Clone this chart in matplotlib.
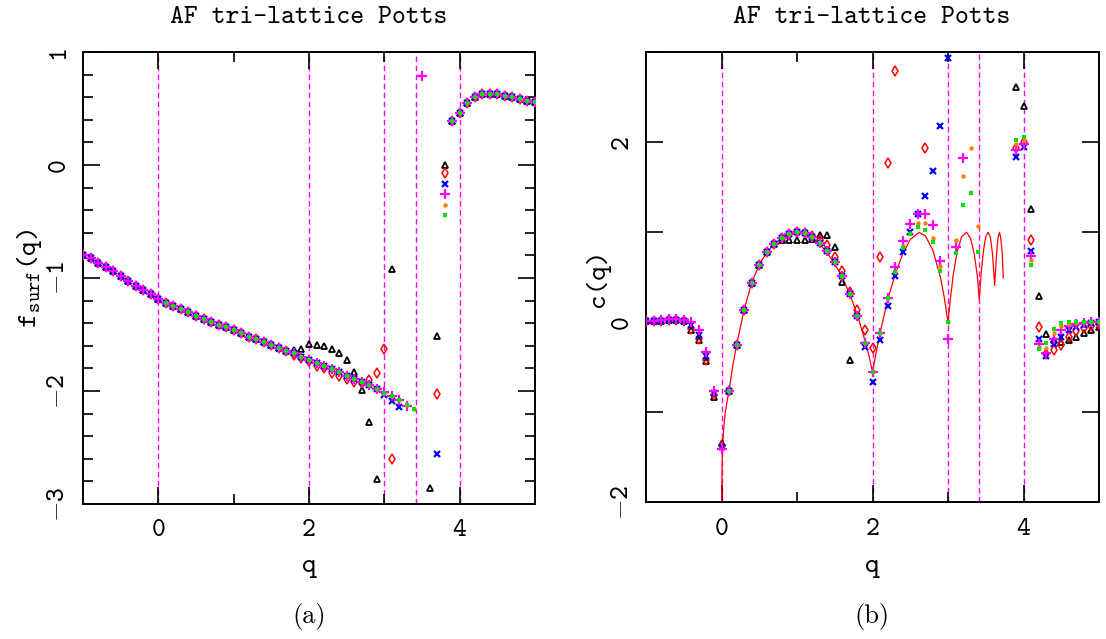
import numpy as np
import matplotlib
matplotlib.use("Agg")
import matplotlib.pyplot as plt

plt.rcParams['font.family'] = 'cmtt10'
plt.rcParams['mathtext.fontset'] = 'cm'
plt.rcParams['axes.unicode_minus'] = False

# q grid of the finite-size data (step 0.1)
q = np.round(np.linspace(-1.0, 5.0, 61), 1)
nan = np.nan

# vertical markers: q = 0, 2, 3, 2+sqrt(2), 4
q_special = [0.0, 2.0, 3.0, 3.414, 4.0]

# ---- panel (a): surface free energy, common curve ----
f_common = [
    -0.796, -0.826, -0.864, -0.900, -0.938, -0.980, -1.024, -1.068, -1.106, -1.145,
    -1.186, -1.218, -1.248, -1.277, -1.304, -1.336, -1.363, -1.392, -1.413, -1.437,
    -1.460, -1.490, -1.519, -1.543, -1.566, -1.593, -1.620, -1.646, -1.667, -1.696,
    -1.724, -1.752, -1.779, -1.808, -1.835, -1.863, -1.892, -1.917, -1.945, -1.980,
    -2.018, -2.044, -2.080, -2.122, -2.160, nan, nan, nan, nan, 0.392,
    0.463, 0.546, 0.600, 0.626, 0.630, 0.625, 0.614, 0.599, 0.585, 0.570,
    0.560,
]
f_black = {1.8: -1.634, 1.9: -1.625, 2.0: -1.584, 2.1: -1.590, 2.2: -1.604,
           2.3: -1.627, 2.4: -1.661, 2.5: -1.726, 2.6: -1.829, 2.7: -1.991,
           2.8: -2.27, 2.9: -2.78, 3.0: nan, 3.1: -0.923, 3.2: nan, 3.3: nan,
           3.4: nan, 3.6: -2.86, 3.7: -1.51, 3.8: 0.0}
f_red = {1.8: -1.680, 1.9: -1.710, 2.0: -1.735, 2.1: -1.783, 2.2: -1.800,
         2.3: -1.838, 2.4: -1.867, 2.5: -1.897, 2.6: -1.920, 2.7: -1.930,
         2.8: -1.905, 2.9: -1.843, 3.0: -1.628, 3.1: -2.60, 3.2: nan, 3.3: nan,
         3.4: nan, 3.7: -2.03, 3.8: -0.07}
f_blue = {3.0: -2.035, 3.1: -2.088, 3.2: -2.140, 3.3: nan, 3.4: nan,
          3.7: -2.56, 3.8: -0.165}
f_magenta = {3.0: -2.006, 3.3: -2.130, 3.4: nan, 3.5: 0.79, 3.8: -0.26}
f_orange = {-1.0: nan, -0.9: nan, -0.8: nan, -0.7: nan, -0.6: nan, -0.5: nan,
            -0.4: nan, -0.3: nan, -0.2: nan, -0.1: nan, 0.0: nan, 3.8: -0.35}
f_green = dict(f_orange)
f_green[3.8] = -0.44

# ---- panel (b): specific heat ----
c_common = [
    0.01, 0.01, 0.02, 0.03, 0.03, 0.02, -0.03, -0.13, -0.37, -0.78,
    -1.37, -0.76, -0.25, 0.14, 0.44, 0.64, 0.78, 0.87, 0.94, 0.98,
    1.00, 0.99, 0.95, 0.88, 0.79, 0.67, 0.51, 0.32, 0.07, -0.23,
    -0.55, -0.12, 0.27, 0.56, 0.83, 0.98, 1.06, 1.03, 0.89, 0.57,
    0.00, 0.77, 1.30, 1.44, 0.78, nan, nan, nan, nan, 2.03,
    2.06, 0.64, -0.30, -0.23, -0.07, -0.01, 0.00, 0.00, 0.00, 0.00,
    0.00,
]
c_black = {-0.4: -0.09, -0.3: -0.20, -0.2: -0.43, -0.1: -0.83, 0.0: -1.34,
           0.8: 0.91, 0.9: 0.91, 1.0: 0.91, 1.1: 0.91, 1.2: 0.93, 1.3: 0.97,
           1.4: 0.97, 1.5: 0.84, 1.6: 0.45, 1.7: -0.42, 1.8: nan, 1.9: nan,
           2.0: nan, 2.1: nan, 2.2: nan, 2.3: nan, 2.4: nan, 2.5: nan, 2.6: nan,
           2.7: nan, 2.8: nan, 2.9: nan, 3.0: nan, 3.1: nan, 3.2: nan, 3.3: nan,
           3.4: nan, 3.9: 2.61, 4.0: 2.40, 4.1: 1.26, 4.2: 0.29, 4.3: -0.13,
           4.4: -0.20, 4.5: -0.22, 4.6: -0.20, 4.7: -0.16, 4.8: -0.12,
           4.9: -0.08, 5.0: -0.05}
c_red = {-0.4: -0.07, -0.3: -0.18, -0.2: -0.42, -0.1: -0.81, 0.0: -1.37,
         1.2: 0.96, 1.3: 0.91, 1.4: 0.86, 1.5: 0.73, 1.6: 0.57, 1.7: 0.34,
         1.8: 0.14, 1.9: -0.08, 2.0: -0.28, 2.1: 0.73, 2.2: 1.77, 2.3: 2.79,
         2.4: nan, 2.5: nan, 2.6: nan, 2.7: 1.94, 2.8: nan, 2.9: nan, 3.0: nan,
         3.1: nan, 3.2: nan, 3.3: nan, 3.4: nan, 3.9: 1.94, 4.0: 2.00,
         4.1: 0.91, 4.2: -0.05, 4.3: -0.35, 4.4: -0.31, 4.5: -0.25,
         4.6: -0.16, 4.7: -0.10, 4.8: -0.06, 4.9: -0.04, 5.0: -0.02}
c_blue = {-0.4: -0.03, -0.3: -0.14, -0.2: -0.37, -0.1: -0.78, 0.0: -1.38,
          1.9: -0.27, 2.0: -0.66, 2.1: -0.20, 2.2: 0.18, 2.3: 0.51, 2.4: 0.78,
          2.5: 1.00, 2.6: 1.20, 2.7: 1.40, 2.8: 1.68, 2.9: 2.18, 3.0: 2.94,
          3.1: nan, 3.2: nan, 3.3: nan, 3.4: nan, 3.9: 1.84, 4.0: 1.95,
          4.1: 0.79, 4.2: -0.19, 4.3: -0.37, 4.4: -0.24, 4.5: -0.16,
          4.6: -0.08, 4.7: -0.05, 4.8: -0.03, 4.9: -0.01}
c_magenta = {-1.0: 0.02, -0.9: 0.02, -0.8: 0.03, -0.7: 0.04, -0.6: 0.04,
             -0.5: 0.03, -0.4: 0.00, -0.3: -0.09, -0.2: -0.33, -0.1: -0.76,
             0.0: -1.41, 2.3: 0.62, 2.4: 0.90, 2.5: 1.09, 2.6: 1.20, 2.7: 1.20,
             2.8: 1.08, 2.9: 0.68, 3.0: -0.18, 3.1: 0.84, 3.2: 1.83, 3.3: nan,
             3.4: nan, 3.9: 1.91, 4.0: 1.98, 4.1: 0.74, 4.2: -0.24, 4.3: -0.34,
             4.4: -0.19, 4.5: -0.08, 4.6: -0.04, 4.7: -0.02, 4.8: -0.01}
c_orange = {-1.0: nan, -0.9: nan, -0.8: nan, -0.7: nan, -0.6: nan, -0.5: nan,
            -0.4: nan, -0.3: nan, -0.2: nan, -0.1: nan, 0.0: nan,
            2.4: 0.85, 2.5: 0.99, 2.6: 1.10, 2.7: 1.10, 2.8: 0.94, 2.9: 0.63,
            3.1: 0.91, 3.2: 1.63, 3.3: 1.94, 3.4: 1.07, 3.9: 1.98, 4.0: 2.03,
            4.1: 0.69, 4.2: -0.27, 4.3: -0.28, 4.4: -0.12, 4.5: -0.04,
            4.6: -0.02, 4.7: -0.01}
c_green = {-1.0: nan, -0.9: nan, -0.8: nan, -0.7: nan, -0.6: nan, -0.5: nan,
           -0.4: nan, -0.3: nan, -0.2: nan, -0.1: nan, 0.0: nan}

# exact curve (red line) in panel (b)
q_exact = [0.0, 0.003, 0.01, 0.02, 0.03, 0.05, 0.075, 0.1, 0.15, 0.2, 0.3, 0.4,
           0.5, 0.6, 0.7, 0.8, 0.9, 1.0, 1.1, 1.2, 1.3, 1.4, 1.5, 1.6, 1.7, 1.8,
           1.9, 1.95, 2.0, 2.05, 2.1, 2.2, 2.3, 2.4, 2.5, 2.618, 2.7, 2.8, 2.9,
           2.95, 3.0, 3.03, 3.07, 3.12, 3.18, 3.247, 3.3, 3.35, 3.39, 3.414,
           3.44, 3.47, 3.5, 3.532, 3.56, 3.59, 3.618, 3.64, 3.66, 3.682, 3.70,
           3.72, 3.732]
c_exact = [-2.6, -1.9, -1.5, -1.3, -1.17, -1.0, -0.87, -0.76, -0.48, -0.25, 0.14,
           0.44, 0.64, 0.78, 0.87, 0.94, 0.985, 1.0, 0.985, 0.94, 0.87, 0.77,
           0.65, 0.50, 0.31, 0.08, -0.20, -0.36, -0.55, -0.33, -0.12, 0.25,
           0.53, 0.76, 0.92, 1.0, 0.96, 0.80, 0.50, 0.28, 0.0, 0.25, 0.53,
           0.78, 0.95, 1.0, 0.93, 0.75, 0.50, 0.25, 0.55, 0.80, 0.95, 1.0,
           0.95, 0.76, 0.41, 0.72, 0.93, 1.0, 0.93, 0.75, 0.49]

# axis ticks and their labels
x_ticks = [0, 2, 4]
x_labels = ['0', '2', '4']
f_ticks = [-3, -2, -1, 0, 1]
f_labels = [r'$-$3', r'$-$2', r'$-$1', '0', '1']
c_ticks = [-2, 0, 2]
c_labels = [r'$-$2', '0', '2']


def series(base, changes):
    arr = np.array(base, dtype=float)
    for qq, v in changes.items():
        arr[int(round((qq - q[0]) * 10))] = v
    return arr


styles = [
    dict(marker='^', mfc='none', mec='black', ms=5, mew=1.3),
    dict(marker='d', mfc='none', mec='red', ms=5.5, mew=1.1),
    dict(marker='x', color='blue', ms=4.5, mew=1.6),
    dict(marker='+', color='#ff00ff', ms=7, mew=1.6),
    dict(marker='o', color='#ff8000', ms=3.2, mew=0),
    dict(marker='s', color='#00e000', ms=3.2, mew=0),
]

f_sets = [series(f_common, d) for d in
          (f_black, f_red, f_blue, f_magenta, f_orange, f_green)]
c_sets = [series(c_common, d) for d in
          (c_black, c_red, c_blue, c_magenta, c_orange, c_green)]

fig = plt.figure(figsize=(11.06, 6.39), dpi=100)
W, H = 1106.0, 639.0
ax1 = fig.add_axes([83 / W, 1 - 504 / H, 452 / W, 452 / H])
ax2 = fig.add_axes([646 / W, 1 - 502.3 / H, 453 / W, 450 / H])

for ax in (ax1, ax2):
    for xv in q_special:
        ax.axvline(xv, color='#ff00ff', lw=1.0, dashes=(4, 2.5), zorder=1)

for vals, st in zip(f_sets, styles):
    ax1.plot(q, vals, ls='none', zorder=3, **st)

ax2.plot(q_exact, c_exact, color='red', lw=0.9, zorder=2)
for vals, st in zip(c_sets, styles):
    ax2.plot(q, vals, ls='none', zorder=3, **st)

ax1.set_xlim(-1, 5)
ax1.set_ylim(-3, 1)
ax1.set_yticks(f_ticks, f_labels)
ax1.set_yticks(np.arange(-3, 1.01, 0.2), minor=True)

ax2.set_xlim(-1, 5)
ax2.set_ylim(-2, 3)
ax2.set_yticks(c_ticks, c_labels)
ax2.set_yticks([-1, 1, 3], minor=True)

for ax in (ax1, ax2):
    ax.set_xticks(x_ticks, x_labels)
    ax.set_xticks([1, 3], minor=True)
    for s in ax.spines.values():
        s.set_linewidth(1.4)
    ax.tick_params(which='both', direction='in', top=True, right=True,
                   width=1.2, labelsize=19)
    ax.tick_params(which='major', length=12)
    ax.tick_params(which='minor', length=7)
    ax.tick_params(axis='x', pad=11)
    ax.tick_params(axis='y', pad=9)
    for lab in ax.get_yticklabels():
        lab.set_rotation(90)
        lab.set_va('center')
ax2.tick_params(axis='y', which='minor', length=12)

for xc, lab in ((309, '(a)'), (872, '(b)')):
    fig.text(xc / W, 1 - 17.5 / H, 'AF tri-lattice Potts', ha='center',
             va='center', fontsize=19)
    fig.text(xc / W, 1 - 566 / H, 'q', ha='center', va='center', fontsize=20)
    fig.text(xc / W, 1 - 617 / H, lab, ha='center', va='center', fontsize=19,
             family='cmr10')

fig.text(30 / W, 1 - 278 / H, r'f$_{\mathtt{surf}}$(q)', rotation=90,
         ha='center', va='center', fontsize=20)
fig.text(598 / W, 1 - 278 / H, 'c(q)', rotation=90, ha='center',
         va='center', fontsize=20)

fig.savefig('out.png', dpi=100)
